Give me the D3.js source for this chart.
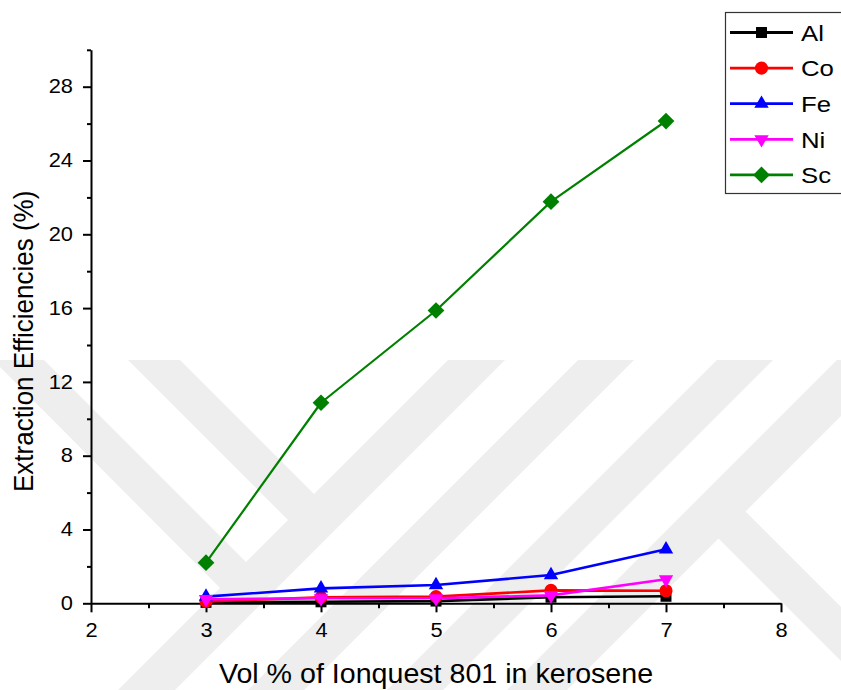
<!DOCTYPE html>
<html>
<head>
<meta charset="utf-8">
<script src="https://cdn.jsdelivr.net/npm/d3@7/dist/d3.min.js"></script>
<style>
  html, body { margin: 0; padding: 0; background: #ffffff; }
  svg { display: block; font-family: "Liberation Sans", Arial, sans-serif; }
</style>
</head>
<body>
<svg id="chart" width="841" height="690"></svg>
<script>
// Extraction efficiency (%) of each metal vs. extractant concentration
const volPercent = [3, 4, 5, 6, 7];
const metals = ["Al", "Co", "Fe", "Ni", "Sc"];
const alEff = [0.05, 0.08, 0.12, 0.33, 0.38];
const coEff = [0.10, 0.32, 0.36, 0.70, 0.68];
const feEff = [0.36, 0.81, 0.99, 1.53, 2.93];
const niEff = [0.22, 0.27, 0.27, 0.43, 1.30];
const scEff = [2.20, 10.87, 15.87, 21.77, 26.14];

const xTickValues = [2, 3, 4, 5, 6, 7, 8];
const xMinorValues = [2.5, 3.5, 4.5, 5.5, 6.5, 7.5];
const yTickValues = [0, 4, 8, 12, 16, 20, 24, 28];
const yMinorValues = [2, 6, 10, 14, 18, 22, 26, 30];

const xTitle = "Vol % of Ionquest 801 in kerosene";
const yTitle = "Extraction Efficiencies (%)";

const seriesValues = [alEff, coEff, feEff, niEff, scEff];
const seriesColors = ["#000000", "#ff0000", "#0000ff", "#ff00ff", "#008000"];
const seriesStroke = [2.6, 2.6, 2.6, 2.6, 2.2];
const seriesShapes = [
  { type: d3.symbolSquare, size: 120, rotate: 0 },
  { type: d3.symbolCircle, size: 135, rotate: 0 },
  { type: d3.symbolTriangle, size: 90, rotate: 0 },
  { type: d3.symbolTriangle, size: 90, rotate: 180 },
  { type: d3.symbolSquare, size: 140, rotate: 45 }
];

const svg = d3.select("#chart");
const textStretch = 1.12;

// faint background emblem made of diagonal stripes
const stripes = [
  [[-7, 360], [44, 360], [262, 578], [236, 604]],
  [[128, 360], [180, 360], [330, 510], [304, 536]],
  [[448, 360], [505, 360], [175, 690], [118, 690]],
  [[578, 360], [634, 360], [304, 690], [248, 690]],
  [[717, 360], [773, 360], [443, 690], [387, 690]],
  [[837, 360], [897, 360], [567, 690], [507, 690]],
  [[732, 498], [705, 525], [870, 690], [924, 690]]
];
svg.append("g")
  .selectAll("polygon")
  .data(stripes)
  .join("polygon")
  .attr("points", d => d.map(p => p.join(",")).join(" "))
  .attr("fill", "#eeeeee");

const x = d3.scaleLinear().domain([2, 8]).range([91, 781]);
const y = d3.scaleLinear().domain([0, 30]).range([603.3, 49.8]);

// x axis
const gx = svg.append("g").attr("transform", `translate(0,${y(0)})`);
gx.call(d3.axisBottom(x).tickValues(xTickValues).tickSize(9).tickPadding(11)
  .tickFormat(d3.format("d")).tickSizeOuter(0));
gx.append("g").call(d3.axisBottom(x).tickValues(xMinorValues).tickSize(5)
  .tickFormat("").tickSizeOuter(0))
  .select(".domain").remove();

// y axis
const gy = svg.append("g").attr("transform", `translate(${x(2)},0)`);
gy.call(d3.axisLeft(y).tickValues(yTickValues).tickSize(8).tickPadding(10)
  .tickFormat(d3.format("d")).tickSizeOuter(0));
gy.append("g").call(d3.axisLeft(y).tickValues(yMinorValues).tickSize(4)
  .tickFormat("").tickSizeOuter(0))
  .select(".domain").remove();

svg.selectAll(".domain").attr("stroke", "#000").attr("stroke-width", 2);
svg.selectAll(".tick line").attr("stroke", "#000").attr("stroke-width", 2);
svg.selectAll(".tick text")
  .attr("fill", "#000")
  .attr("font-size", 19.5)
  .attr("font-family", "'Liberation Sans', Arial, sans-serif");
gx.selectAll(".tick text").attr("transform", `scale(${textStretch},1)`);
gy.selectAll(".tick text").each(function () {
  const t = d3.select(this);
  const xx = +t.attr("x");
  t.attr("transform", `translate(${xx},0) scale(${textStretch},1) translate(${-xx},0)`);
});

// axis titles
svg.append("text")
  .attr("transform", `translate(${(x(2) + x(8)) / 2},683) scale(1.06,1)`)
  .attr("text-anchor", "middle")
  .attr("font-size", 27)
  .attr("fill", "#000")
  .text(xTitle);

svg.append("text")
  .attr("transform", `translate(33,492) scale(1.08,1) rotate(-90)`)
  .attr("text-anchor", "start")
  .attr("font-size", 26)
  .attr("fill", "#000")
  .text(yTitle);

// series lines and markers
const line = d3.line().x((d, i) => x(volPercent[i])).y(d => y(d));
const plot = svg.append("g");
metals.forEach((name, k) => {
  const g = plot.append("g");
  g.append("path")
    .attr("d", line(seriesValues[k]))
    .attr("fill", "none")
    .attr("stroke", seriesColors[k])
    .attr("stroke-width", seriesStroke[k])
    .attr("stroke-linejoin", "round");
  const sh = seriesShapes[k];
  g.selectAll("path.marker")
    .data(seriesValues[k])
    .join("path")
    .attr("class", "marker")
    .attr("d", d3.symbol().type(sh.type).size(sh.size)())
    .attr("transform", (d, i) => `translate(${x(volPercent[i])},${y(d)}) rotate(${sh.rotate})`)
    .attr("fill", seriesColors[k]);
});

// legend
const legend = svg.append("g");
legend.append("rect")
  .attr("x", 725.5).attr("y", 12.5)
  .attr("width", 140).attr("height", 181)
  .attr("fill", "#ffffff")
  .attr("stroke", "#333333").attr("stroke-width", 1.2);
metals.forEach((name, k) => {
  const ly = 32.5 + k * 35.6;
  const row = legend.append("g");
  row.append("line")
    .attr("x1", 730).attr("x2", 793).attr("y1", ly).attr("y2", ly)
    .attr("stroke", seriesColors[k]).attr("stroke-width", 2.8);
  const sh = seriesShapes[k];
  row.append("path")
    .attr("d", d3.symbol().type(sh.type).size(sh.size)())
    .attr("transform", `translate(761.5,${ly}) rotate(${sh.rotate})`)
    .attr("fill", seriesColors[k]);
  row.append("text")
    .attr("transform", `translate(801,${ly + 8.3}) scale(${textStretch},1)`)
    .attr("font-size", 23)
    .attr("fill", "#000")
    .text(name);
});
</script>
</body>
</html>
